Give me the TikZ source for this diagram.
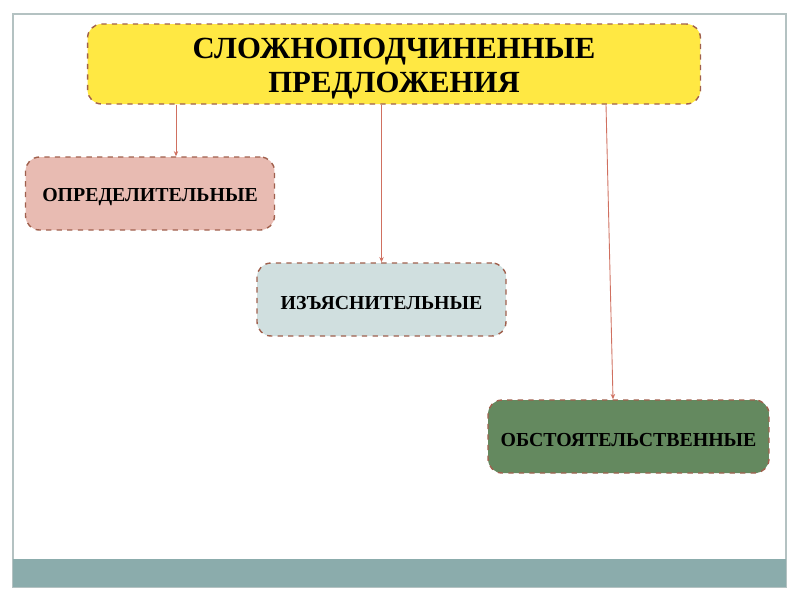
\documentclass[tikz,border=0pt]{standalone}
\usepackage{fontspec}
\setmainfont{Liberation Serif}
\usetikzlibrary{arrows.meta}
\definecolor{frameg}{HTML}{B4C2C2}
\definecolor{bandg}{HTML}{8BACAC}
\definecolor{edgebr}{HTML}{A0604D}
\definecolor{linkr}{HTML}{D07060}
\definecolor{topy}{HTML}{FFE843}
\definecolor{pinkb}{HTML}{E8BBB2}
\definecolor{greyb}{HTML}{D0DFDF}
\definecolor{greenb}{HTML}{64895F}
\tikzset{
  kind/.style={draw=edgebr, dashed, line width=0.8pt, rounded corners=8pt,
    font=\bfseries\fontsize{11.3}{13}\selectfont, align=center,
    minimum height=1.46cm, inner sep=0pt},
  link/.style={draw=linkr, line width=0.5pt, -{Stealth[length=3pt,width=2.5pt]}}
}
\begin{document}
\begin{tikzpicture}[x=0.02cm,y=-0.02cm]
  \useasboundingbox (0,0) rectangle (800,600);
  % slide frame and bottom band
  \draw[frameg, line width=0.8pt] (13,14) rectangle (786,587);
  \fill[bandg] (13,559) rectangle (786,587);
  % title
  \node[kind, fill=topy, minimum width=12.26cm, minimum height=1.6cm,
    font=\bfseries\fontsize{17.5}{19.5}\selectfont] (main) at (394,64)
    {\rule{0pt}{17pt}СЛОЖНОПОДЧИНЕННЫЕ\\ПРЕДЛОЖЕНИЯ};
  % kinds
  \node[kind, fill=pinkb, minimum width=4.98cm] (opr) at (150,193.5) {\rule{0pt}{11pt}ОПРЕДЕЛИТЕЛЬНЫЕ};
  \node[kind, fill=greyb, minimum width=4.98cm] (izj) at (381.5,299.5) {\rule{0pt}{11pt}ИЗЪЯСНИТЕЛЬНЫЕ};
  \node[kind, fill=greenb, minimum width=5.62cm] (obs) at (628.5,436.5) {\rule{0pt}{11pt}ОБСТОЯТЕЛЬСТВЕННЫЕ};
  % links
  \draw[link] (main.south -| 176,0) -- (opr.north -| 176,0);
  \draw[link] (main.south -| izj.north) -- (izj.north);
  \draw[link] (main.south -| 606,0) -- (obs.north -| 613,0);
\end{tikzpicture}
\end{document}
